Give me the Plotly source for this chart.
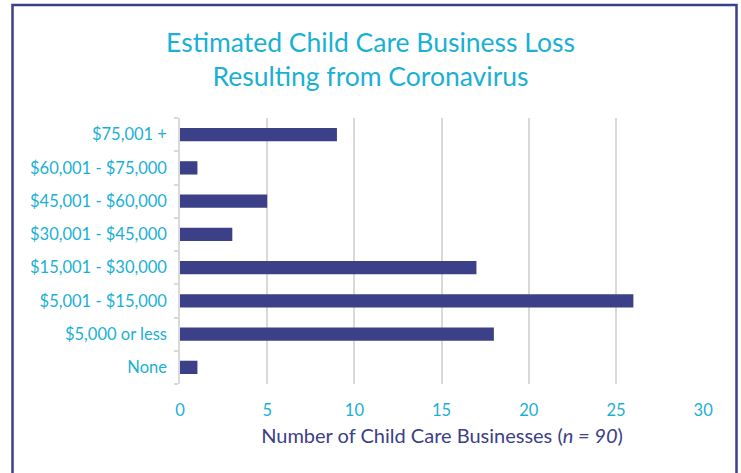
import plotly.graph_objects as go

categories = ["None", "$5,000 or less", "$5,001 - $15,000", "$15,001 - $30,000",
              "$30,001 - $45,000", "$45,001 - $60,000", "$60,001 - $75,000", "$75,001 +"]
values = [1, 18, 26, 17, 3, 5, 1, 9]
x_ticks = [0, 5, 10, 15, 20, 25, 30]

CYAN = "#1AB0D5"
NAVY = "#3C4088"
FONT = "Lato"

fig = go.Figure(go.Bar(
    x=values, y=categories, orientation="h",
    marker=dict(color=NAVY, line=dict(width=0)),
    width=0.4,
))

L, R, T, B = 180, 37, 118, 89
pw = 741 - L - R
ph = 473 - T - B

fig.update_layout(
    width=741, height=473,
    margin=dict(l=L, r=R, t=T, b=B, autoexpand=False),
    paper_bgcolor="white", plot_bgcolor="white",
    showlegend=False,
    title=dict(text="Estimated Child Care Business Loss<br>Resulting from Coronavirus",
               x=0.5, xanchor="center", y=1 - 52 / 473, yanchor="middle",
               font=dict(family=FONT, size=26.5, color=CYAN)),
    font=dict(family=FONT, color=CYAN),
    xaxis=dict(range=[0, 30.05], tickvals=x_ticks, showgrid=True, automargin=False,
               gridcolor="#D9D9D9", gridwidth=1.5, zeroline=False,
               showline=False, ticks="", ticklabelstandoff=14,
               tickfont=dict(family=FONT, size=16.5, color=CYAN),
               title=dict(text="Number of Child Care Businesses (<i>n = 90</i>)",
                          font=dict(family=FONT, size=20, color=NAVY), standoff=10)),
    yaxis=dict(type="category", categoryorder="array", categoryarray=categories,
               showline=True, linecolor="#D9D9D9", linewidth=1.5, automargin=False,
               ticks="outside", tickson="boundaries", ticklen=4, tickcolor="#D9D9D9",
               tickwidth=1.5, showgrid=False, ticklabelstandoff=8,
               tickfont=dict(family=FONT, size=16.5, color=CYAN)),
)

fig.add_shape(type="rect", xref="paper", yref="paper",
              x0=(12.5 - L) / pw, x1=(736.5 - L) / pw,
              y0=(ph + T - 490) / ph, y1=(ph + T - 5) / ph,
              line=dict(color=NAVY, width=2.5), fillcolor="rgba(0,0,0,0)", layer="above")

fig.write_html("out.html", config={"displayModeBar": False},
               post_script="document.body.style.margin='0';document.body.style.padding='0';")
